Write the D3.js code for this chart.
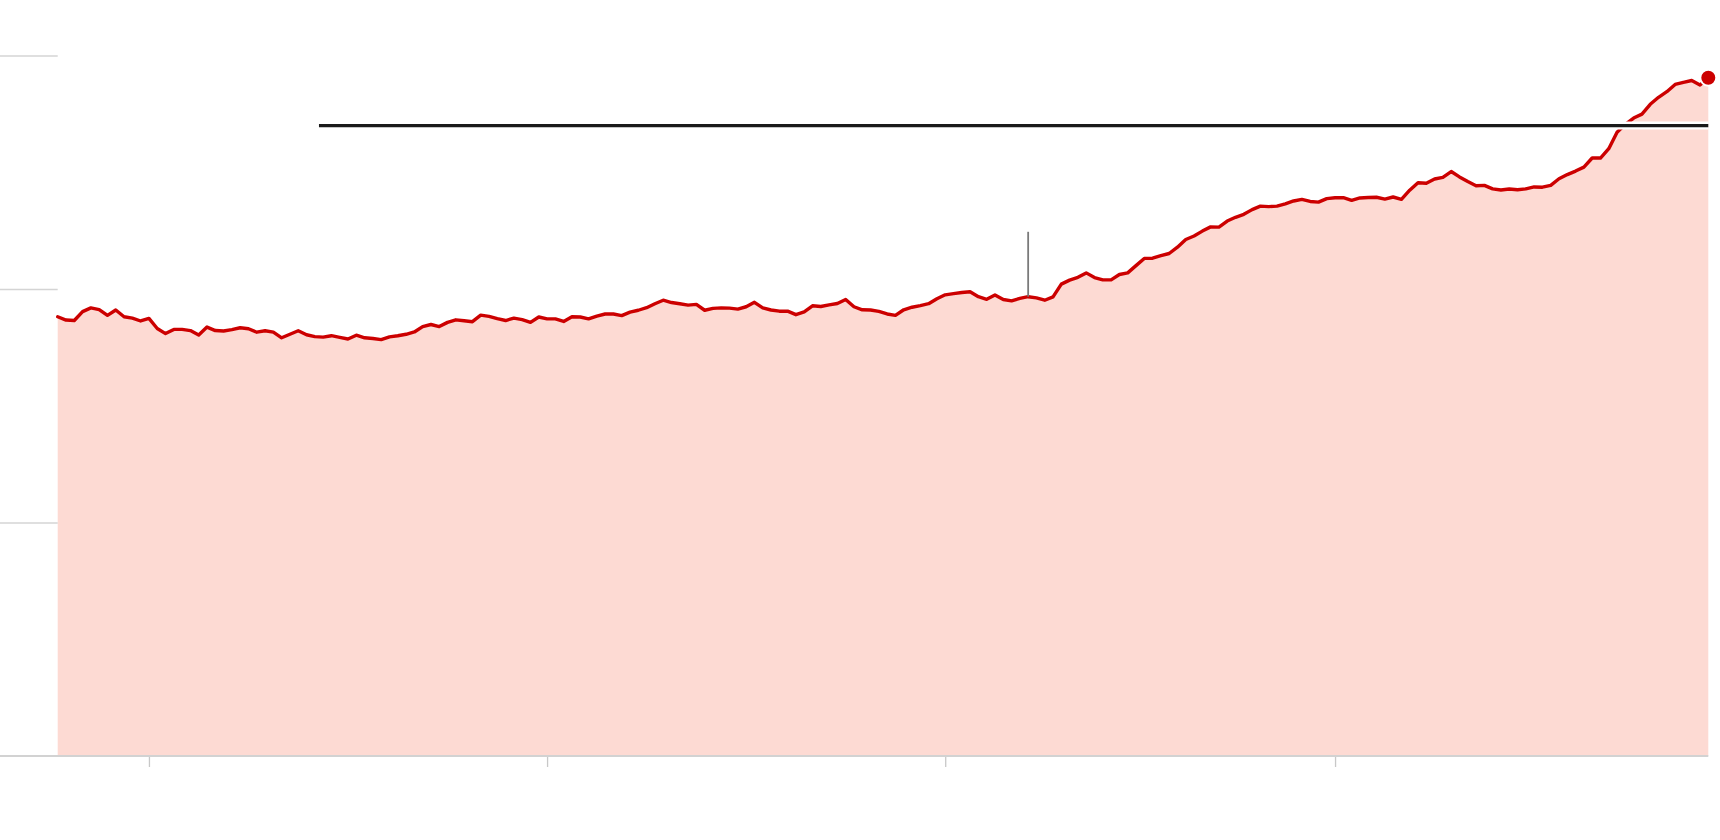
<!DOCTYPE html>
<html>
<head>
<meta charset="utf-8">
<script src="https://cdn.jsdelivr.net/npm/d3@7"></script>
<style>
  html, body { margin: 0; padding: 0; background: #ffffff; }
  svg { display: block; }
</style>
</head>
<body>
<svg id="chart" width="1720" height="840"></svg>
<script>
// ---- data ----
const values = [
  188.1, 186.7, 186.5, 190.3, 191.9, 191.2, 188.7, 191.0, 188.1, 187.5,
  186.3, 187.4, 183.1, 180.9, 182.7, 182.7, 182.2, 180.3, 183.7, 182.2,
  182.0, 182.6, 183.4, 183.0, 181.5, 182.1, 181.5, 179.1, 180.6, 182.1,
  180.4, 179.6, 179.4, 180.0, 179.3, 178.6, 180.2, 179.1, 178.8, 178.3,
  179.5, 180.0, 180.6, 181.6, 183.9, 184.8, 183.9, 185.7, 186.8, 186.4,
  186.0, 188.8, 188.3, 187.3, 186.5, 187.5, 186.9, 185.7, 188.0, 187.2,
  187.2, 186.1, 188.1, 188.0, 187.2, 188.4, 189.3, 189.3, 188.6, 190.1,
  190.9, 192.0, 193.7, 195.2, 194.2, 193.7, 193.1, 193.4, 190.9, 191.7,
  191.9, 191.8, 191.4, 192.4, 194.3, 191.9, 191.0, 190.5, 190.5, 189.0,
  190.2, 192.8, 192.5, 193.2, 193.8, 195.5, 192.4, 191.1, 191.0, 190.4,
  189.3, 188.7, 191.1, 192.2, 192.9, 193.7, 195.8, 197.5, 198.0, 198.5,
  198.8, 196.7, 195.6, 197.4, 195.5, 194.9, 196.0, 196.7, 196.2, 195.2,
  196.6, 202.1, 203.8, 205.0, 206.9, 204.9, 203.9, 203.9, 206.2, 206.9,
  210.0, 213.1, 213.2, 214.3, 215.2, 217.9, 221.2, 222.7, 224.8, 226.6,
  226.5, 229.1, 230.7, 232.0, 234.0, 235.5, 235.3, 235.5, 236.5, 237.7,
  238.4, 237.5, 237.2, 238.7, 239.1, 239.1, 238.0, 239.0, 239.2, 239.3,
  238.5, 239.4, 238.4, 242.3, 245.5, 245.3, 247.1, 247.8, 250.3, 248.0,
  246.0, 244.2, 244.4, 242.9, 242.4, 242.8, 242.5, 242.9, 243.7, 243.6,
  244.4, 247.2, 249.0, 250.5, 252.2, 256.1, 256.1, 260.1, 267.1, 270.5,
  273.2, 274.9, 279.1, 282.1, 284.5, 287.6, 288.5, 289.3, 287.4, 290.5
];
const xTickIndex = [11, 59, 107, 154];      // x-axis tick positions (index of period)
const yGridValues = [100, 200, 300];        // horizontal gridline values
const referenceLevel = 270;                 // horizontal black reference line
const referenceStartIndex = 31.5;           // where the reference line starts
const markerIndex = 117;                    // vertical marker position
const markerTop = 224.5;                    // vertical marker top value

(function () {
  // ---- layout ----
  const svg = d3.select("#chart");
  const padLeft = 57.7, plotRight = 1708.3, plotTop = 55.5, plotBottom = 756;

  const x = d3.scaleLinear().domain([0, values.length - 1]).range([padLeft, plotRight]);
  const y = d3.scaleLinear().domain([0, 300]).range([plotBottom, plotTop]);

  const data = values.map((v, i) => ({ i, v }));

  // area
  svg.append("path")
    .datum(data)
    .attr("fill", "#fddad3")
    .attr("d", d3.area().x(d => x(d.i)).y0(y(0)).y1(d => y(d.v)));

  // left gridline stubs
  const yAxis = d3.axisLeft(y).tickValues(yGridValues).tickSize(padLeft).tickFormat("");
  const gy = svg.append("g").attr("transform", `translate(${padLeft},0)`).call(yAxis);
  gy.select(".domain").remove();
  gy.selectAll(".tick line").attr("stroke", "#d4d4d4").attr("stroke-width", 1.3);

  // bottom axis ticks
  const xAxis = d3.axisBottom(x).tickValues(xTickIndex).tickSize(11).tickFormat("");
  const gx = svg.append("g").attr("transform", `translate(0,${plotBottom})`).call(xAxis);
  gx.select(".domain").remove();
  gx.selectAll(".tick line").attr("stroke", "#c8c8c8").attr("stroke-width", 1.3);

  // baseline
  svg.append("line")
    .attr("x1", 0).attr("x2", plotRight)
    .attr("y1", y(0)).attr("y2", y(0))
    .attr("stroke", "#d2d2d2").attr("stroke-width", 2);

  // red line
  svg.append("path")
    .datum(data)
    .attr("fill", "none")
    .attr("stroke", "#cc0000")
    .attr("stroke-width", 3.4)
    .attr("stroke-linejoin", "round")
    .attr("stroke-linecap", "round")
    .attr("d", d3.line().x(d => x(d.i)).y(d => y(d.v)));

  // reference line (white halo + black)
  svg.append("line")
    .attr("x1", x(referenceStartIndex)).attr("x2", plotRight)
    .attr("y1", y(referenceLevel)).attr("y2", y(referenceLevel))
    .attr("stroke", "#ffffff").attr("stroke-width", 8);
  svg.append("line")
    .attr("x1", x(referenceStartIndex)).attr("x2", plotRight)
    .attr("y1", y(referenceLevel)).attr("y2", y(referenceLevel))
    .attr("stroke", "#1a1a1a").attr("stroke-width", 3.3);

  // vertical marker
  svg.append("line")
    .attr("x1", x(markerIndex)).attr("x2", x(markerIndex))
    .attr("y1", y(values[markerIndex])).attr("y2", y(markerTop))
    .attr("stroke", "#7a7a7a").attr("stroke-width", 1.8);

  // end dot
  const last = data[data.length - 1];
  svg.append("circle")
    .attr("cx", x(last.i)).attr("cy", y(last.v))
    .attr("r", 8)
    .attr("fill", "#cc0000")
    .attr("stroke", "#ffffff").attr("stroke-width", 2);
})();
</script>
</body>
</html>
